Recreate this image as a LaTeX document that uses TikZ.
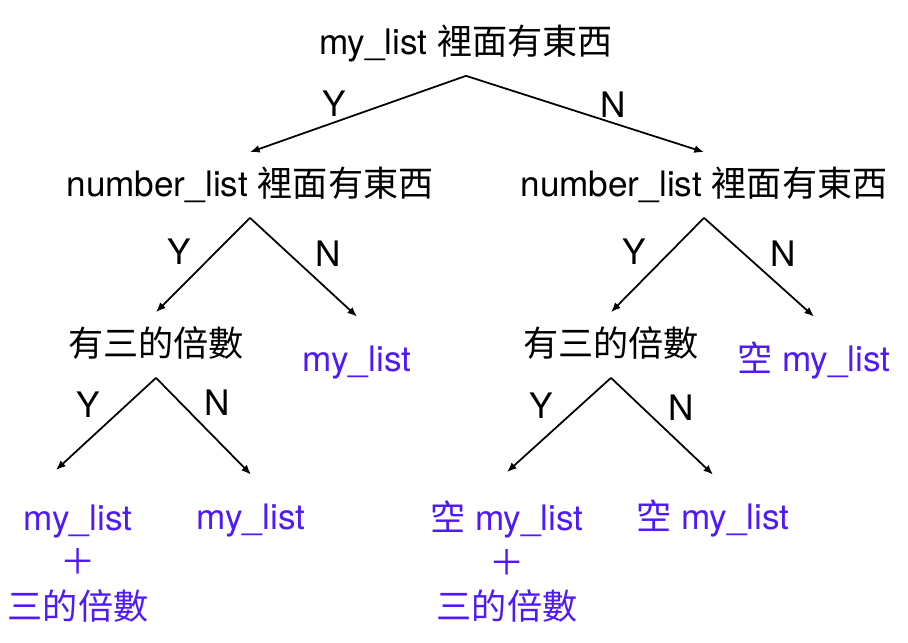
\documentclass[tikz,border=0pt]{standalone}
\usepackage{fontspec}
\usepackage{tikz}
\usetikzlibrary{arrows.meta}
\setmainfont{TeX Gyre Heros}
\newfontfamily\cjk{Noto Sans CJK TC}
\newcommand{\zh}[1]{{\cjk #1}}
\definecolor{leafblue}{RGB}{80,25,250}

\begin{document}
\begin{tikzpicture}[x=0.02cm, y=-0.02cm, font=\fontsize{20}{25.5}\selectfont,
    cond/.style={text height=15pt, text depth=2pt, inner xsep=0pt, inner ysep=10pt},
    leaf/.style={text=leafblue, text height=15pt, text depth=2pt, inner xsep=0pt, inner ysep=16pt},
    stack/.style={text=leafblue, align=center, inner xsep=0pt, inner ysep=16pt, anchor=north},
    yn/.style={inner sep=3pt},
    arr/.style={-{Latex[length=5.5pt, width=4.5pt]}, line width=1pt}]
    \useasboundingbox (0,0) rectangle (908,642);

    \node[cond] (root) at (466, 43) {my\_list \zh{裡面有東西}};
    \node[cond] (left) at (250, 185) {number\_list \zh{裡面有東西}};
    \node[cond] (right) at (704, 185) {number\_list \zh{裡面有東西}};

    \node[cond] (leftthree) at (156, 345) {\zh{有三的倍數}};
    \node[leaf] (leftkeep) at (357, 360) {my\_list};
    \node[cond] (rightthree) at (611, 345) {\zh{有三的倍數}};
    \node[leaf] (rightempty) at (814, 360) {\zh{空} my\_list};

    \node[stack] (addthree) at (78, 476) {my\_list\\\zh{＋}\\\zh{三的倍數}};
    \node[leaf] (samelist) at (251, 518) {my\_list};
    \node[stack] (emptyadd) at (507, 472) {\zh{空} my\_list\\\zh{＋}\\\zh{三的倍數}};
    \node[leaf] (emptyonly) at (713, 518) {\zh{空} my\_list};

    \draw[arr] (root.south) -- (left.north) node[yn, pos=0.61, above] {Y};
    \draw[arr] (root.south) -- (right.north) node[yn, pos=0.62, above] {N};

    \draw[arr] (left.south) -- (leftthree.north) node[yn, pos=0.56, above left] {Y};
    \draw[arr] (left.south) -- (leftkeep.north) node[yn, pos=0.55, above right] {N};
    \draw[arr] (right.south) -- (rightthree.north) node[yn, pos=0.56, above left] {Y};
    \draw[arr] (right.south) -- (rightempty.north) node[yn, pos=0.55, above right] {N};

    \draw[arr] (leftthree.south) -- ([shift={(-22,-6)}]addthree.north) node[yn, midway, above left] {Y};
    \draw[arr] (leftthree.south) -- (samelist.north) node[yn, pos=0.45, above right] {N};
    \draw[arr] (rightthree.south) -- (emptyadd.north) node[yn, midway, above left] {Y};
    \draw[arr] (rightthree.south) -- (emptyonly.north) node[yn, midway, above right] {N};
\end{tikzpicture}
\end{document}
